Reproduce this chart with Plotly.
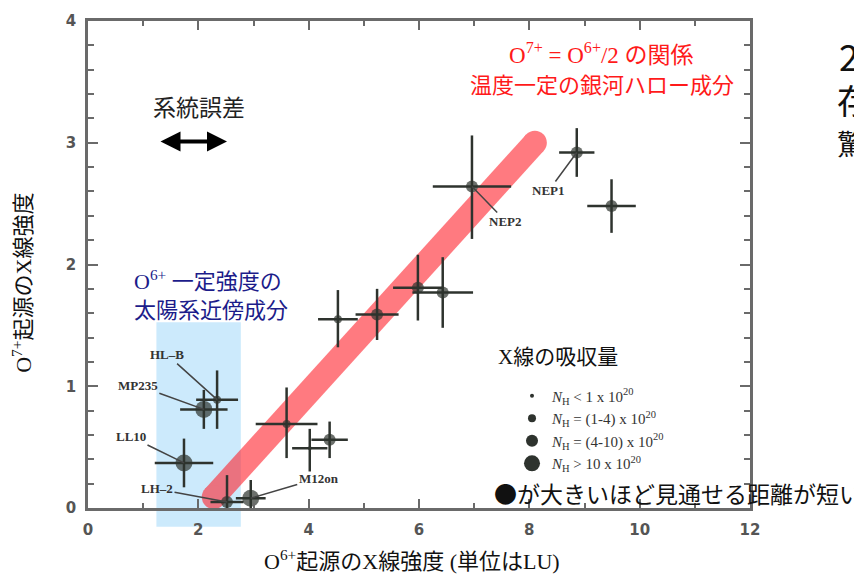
import plotly.graph_objects as go

# ---------------- data ----------------
o6 = [8.86, 9.49, 6.96, 4.53, 5.24, 5.98, 6.43, 3.60, 4.38, 4.02, 2.34, 2.10, 1.74, 2.52, 2.95]
o7 = [2.92, 2.48, 2.64, 1.55, 1.59, 1.81, 1.77, 0.69, 0.56, 0.49, 0.89, 0.81, 0.37, 0.05, 0.08]
o6_err = [0.32, 0.44, 0.71, 0.36, 0.39, 0.45, 0.55, 0.56, 0.33, 0.32, 0.38, 0.43, 0.53, 0.30, 0.27]
o7_err_plus = [0.20, 0.22, 0.42, 0.24, 0.21, 0.27, 0.29, 0.30, 0.15, 0.16, 0.24, 0.16, 0.20, 0.22, 0.15]
o7_err_minus = [0.20, 0.22, 0.43, 0.23, 0.21, 0.27, 0.29, 0.28, 0.15, 0.19, 0.24, 0.16, 0.20, 0.10, 0.15]
nh_class = [2, 2, 2, 1, 2, 2, 2, 1, 2, 0, 1, 3, 3, 2, 3]
labels = ["NEP1", "", "NEP2", "", "", "", "", "", "", "", "HL\u2013B", "MP235", "LL10", "LH\u20132", "M12on"]

rel_x = [2.28, 8.10]   # O7+ = O6+/2 relation band
rel_y = [0.09, 3.00]
solar_x = [1.24, 2.77]  # constant-O6+ solar neighbourhood band

legend_names = [
    "<i>N</i><sub>H</sub> < 1 x 10<sup>20</sup>",
    "<i>N</i><sub>H</sub> = (1-4) x 10<sup>20</sup>",
    "<i>N</i><sub>H</sub> = (4-10) x 10<sup>20</sup>",
    "<i>N</i><sub>H</sub> > 10 x 10<sup>20</sup>",
]

# ---------------- style ----------------
CLASS_SIZE = [4, 8, 12, 17]
DARK = "#2e332e"
SERIF = "Liberation Serif, Noto Sans CJK JP, serif"
JP = "Noto Sans CJK JP, sans-serif"
L, R, T, B = 88, 104, 15, 68
W, H = 854, 576
PW, PH = W - L - R, H - T - B


def px(x):
    return (x - L) / PW


def py(y):
    return (H - B - y) / PH


label_offsets = {
    "NEP1": (-28, 38), "NEP2": (34, 35), "HL\u2013B": (-50, -45), "MP235": (-66, -24),
    "LL10": (-53, -26), "LH\u20132": (-70, -13), "M12on": (68, -20),
}

fig = go.Figure()

# relation band
fig.add_trace(go.Scatter(
    x=rel_x, y=rel_y, mode="lines+markers", opacity=0.6,
    line=dict(color="rgb(255,35,45)", width=24),
    marker=dict(size=24, color="rgb(255,35,45)"),
    showlegend=False, hoverinfo="skip"))

# data points
fig.add_trace(go.Scatter(
    x=o6, y=o7, mode="markers",
    marker=dict(size=[CLASS_SIZE[c] for c in nh_class], color=DARK, line=dict(width=0)),
    error_x=dict(type="data", array=o6_err, color=DARK, thickness=2.5, width=0),
    error_y=dict(type="data", array=o7_err_plus, arrayminus=o7_err_minus, color=DARK, thickness=2.5, width=0),
    showlegend=False))

# legend-only traces
for i, name in enumerate(legend_names):
    fig.add_trace(go.Scatter(x=[None], y=[None], mode="markers", name=name,
                             marker=dict(size=CLASS_SIZE[i], color=DARK)))

ann = []
for xv, yv, lab in zip(o6, o7, labels):
    if lab:
        axo, ayo = label_offsets[lab]
        ann.append(dict(x=xv, y=yv, xref="x", yref="y", text=lab, ax=axo, ay=ayo,
                        showarrow=True, arrowhead=0, arrowwidth=1.5, arrowcolor="#444",
                        font=dict(family=SERIF, size=13, color="#333", weight="bold")))


def txt(text, x, y, size, color="#222", xanchor="center", family=SERIF, **kw):
    ann.append(dict(text=text, x=px(x), y=py(y), xref="paper", yref="paper",
                    xanchor=xanchor, yanchor="middle", showarrow=False,
                    font=dict(family=family, size=size, color=color), **kw))


txt("系統誤差", 199, 101, 23, family=JP)
ann.append(dict(x=px(227), y=py(137), xref="paper", yref="paper", ax=-68, ay=0, text="",
                showarrow=True, arrowhead=2, arrowside="end+start", arrowsize=1,
                arrowwidth=4, arrowcolor="#000"))
txt("O<sup>7+</sup> = O<sup>6+</sup>/2 の関係", 601, 48, 23, color="#ff1a1a")
txt("温度一定の銀河ハロー成分", 602, 80, 22, color="#ff1a1a")
txt("O<sup>6+</sup> 一定強度の", 132, 277, 22, color="#1c1c8a", xanchor="left")
txt("太陽系近傍成分", 132, 308, 22, color="#1c1c8a", xanchor="left")
txt("X線の吸収量", 496, 355, 21, color="#111", xanchor="left")
txt("●が大きいほど見通せる距離が短い", 492, 493, 23, color="#111", xanchor="left", family=JP)
txt("O<sup>6+</sup>起源のX線強度 (単位はLU)", 412, 561, 22, color="#111")
txt("O<sup>7+</sup>起源のX線強度", 22, 280, 22, color="#111", textangle=-90)
txt("2", 837, 49, 36, color="#111", xanchor="left", family=JP)
txt("存", 835, 94, 34, color="#111", xanchor="left", family=JP)
txt("驚", 835, 138, 28, color="#111", xanchor="left", family=JP)

axis_common = dict(showline=True, linecolor="#6a6a6a", linewidth=2.5, mirror="ticks",
                   ticks="inside", tickcolor="#6a6a6a", tickwidth=2, showgrid=False,
                   zeroline=False, ticklabelstandoff=6,
                   tickfont=dict(family="DejaVu Sans, sans-serif", size=15, color="#555", weight="bold"))

fig.update_layout(
    width=W, height=H, margin=dict(l=L, r=R, t=T, b=B),
    paper_bgcolor="white", plot_bgcolor="white",
    xaxis=dict(range=[0, 12], dtick=2, ticklen=9,
               minor=dict(dtick=1, ticks="inside", ticklen=5, tickcolor="#6a6a6a", tickwidth=2),
               **axis_common),
    yaxis=dict(range=[0, 4], dtick=1, ticklen=10,
               minor=dict(dtick=0.2, ticks="inside", ticklen=6, tickcolor="#6a6a6a", tickwidth=2),
               **axis_common),
    shapes=[dict(type="rect", xref="x", yref="paper", x0=solar_x[0], x1=solar_x[1],
                 y0=py(527), y1=py(320), fillcolor="rgb(204,234,252)", line=dict(width=0),
                 layer="below")],
    legend=dict(x=px(512), y=py(378), xanchor="left", yanchor="top", bgcolor="rgba(0,0,0,0)",
                font=dict(family=SERIF, size=15, color="#333"), tracegroupgap=0,
                itemclick=False),
    annotations=ann,
    showlegend=True,
)

fig.write_html("out.html", config={"displayModeBar": False},
               post_script="document.body.style.margin='0';document.body.style.overflow='hidden';")
